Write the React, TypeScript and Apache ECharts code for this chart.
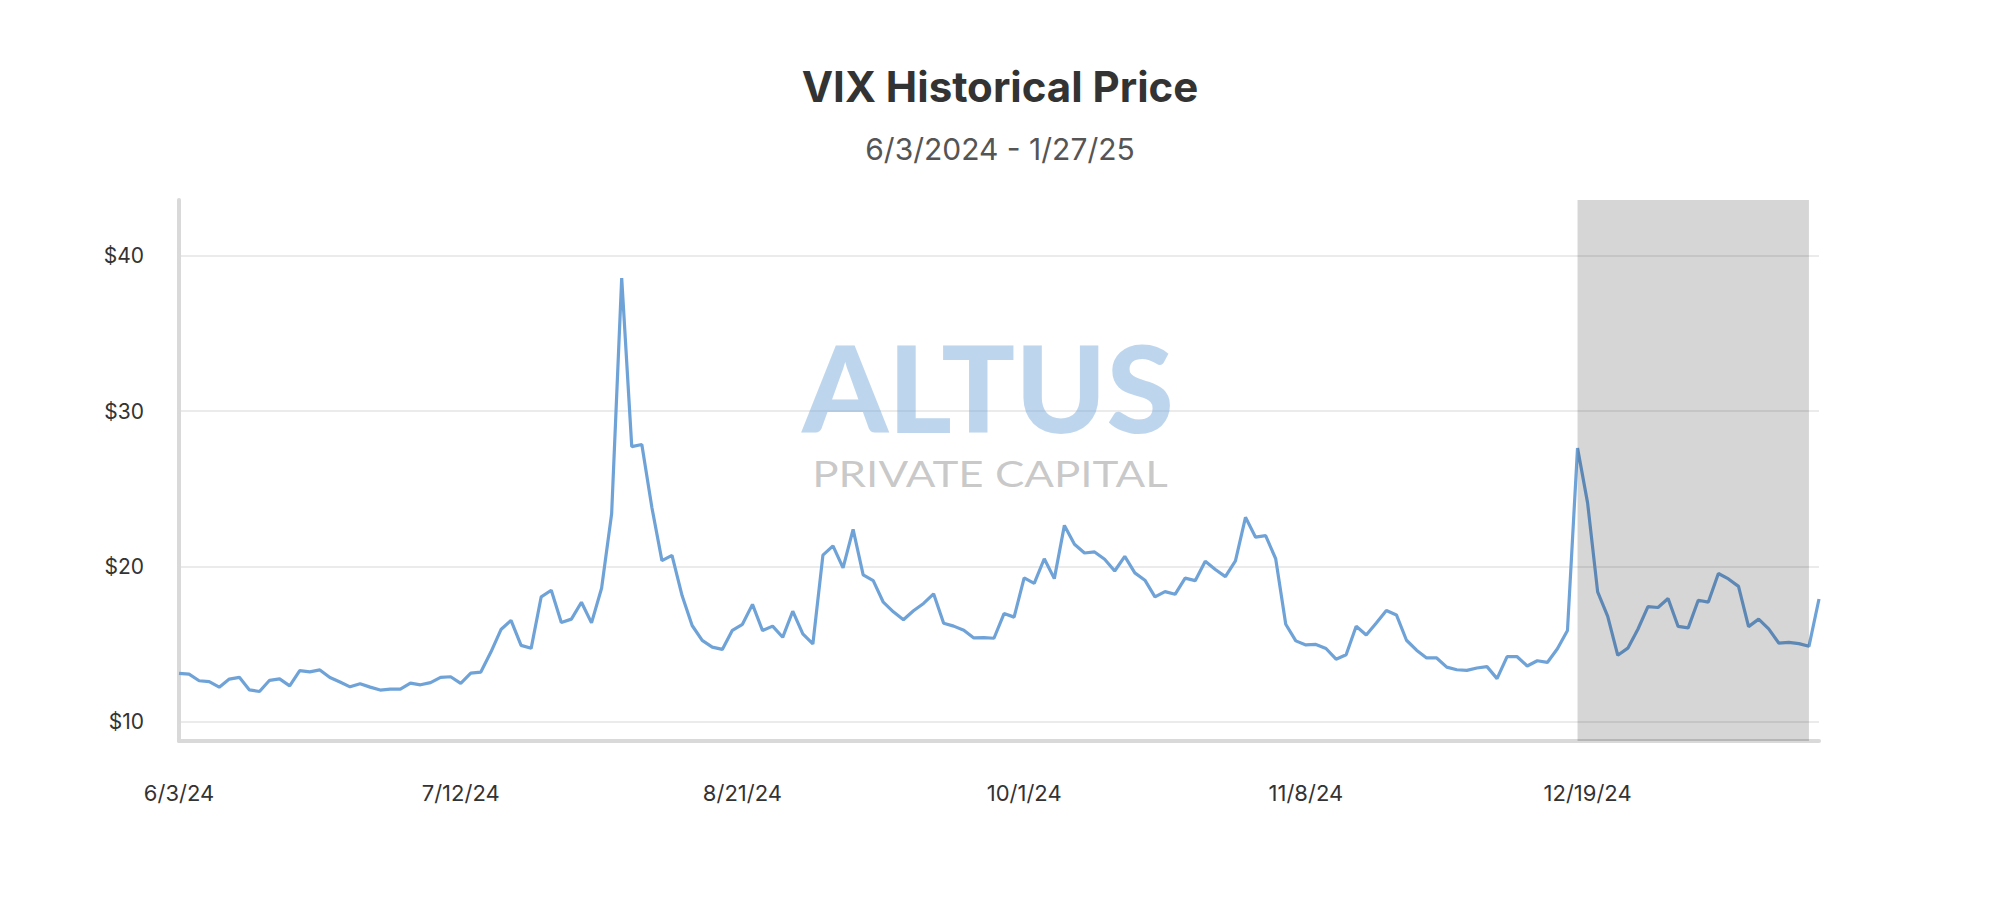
import { useEffect, useRef } from 'react';
import * as echarts from 'echarts';

const dates: string[] = [
  '6/3/24','6/4/24','6/5/24','6/6/24','6/7/24','6/10/24','6/11/24','6/12/24','6/13/24','6/14/24',
  '6/17/24','6/18/24','6/20/24','6/21/24','6/24/24','6/25/24','6/26/24','6/27/24','6/28/24',
  '7/1/24','7/2/24','7/3/24','7/4/24','7/5/24','7/8/24','7/9/24','7/10/24','7/11/24','7/12/24',
  '7/15/24','7/16/24','7/17/24','7/18/24','7/19/24','7/22/24','7/23/24','7/24/24','7/25/24','7/26/24',
  '7/29/24','7/30/24','7/31/24','8/1/24','8/2/24','8/5/24','8/6/24','8/7/24','8/8/24','8/9/24',
  '8/12/24','8/13/24','8/14/24','8/15/24','8/16/24','8/19/24','8/20/24','8/21/24','8/22/24','8/23/24',
  '8/26/24','8/27/24','8/28/24','8/29/24','8/30/24','9/3/24','9/4/24','9/5/24','9/6/24',
  '9/9/24','9/10/24','9/11/24','9/12/24','9/13/24','9/16/24','9/17/24','9/18/24','9/19/24','9/20/24',
  '9/23/24','9/24/24','9/25/24','9/26/24','9/27/24','9/30/24','10/1/24','10/2/24','10/3/24','10/4/24',
  '10/7/24','10/8/24','10/9/24','10/10/24','10/11/24','10/14/24','10/15/24','10/16/24','10/17/24','10/18/24',
  '10/21/24','10/22/24','10/23/24','10/24/24','10/25/24','10/28/24','10/29/24','10/30/24','10/31/24','11/1/24',
  '11/4/24','11/5/24','11/6/24','11/7/24','11/8/24','11/11/24','11/12/24','11/13/24','11/14/24','11/15/24',
  '11/18/24','11/19/24','11/20/24','11/21/24','11/22/24','11/25/24','11/26/24','11/27/24','11/29/24',
  '12/2/24','12/3/24','12/4/24','12/5/24','12/6/24','12/9/24','12/10/24','12/11/24','12/12/24','12/13/24',
  '12/16/24','12/17/24','12/18/24','12/19/24','12/20/24','12/23/24','12/24/24','12/26/24','12/27/24',
  '12/30/24','12/31/24','1/2/25','1/3/25','1/6/25','1/7/25','1/8/25','1/10/25',
  '1/13/25','1/14/25','1/15/25','1/16/25','1/17/25','1/21/25','1/22/25','1/23/25','1/24/25','1/27/25',
];

const vix: number[] = [
  13.11, 13.06, 12.63, 12.58, 12.22, 12.74, 12.85, 12.04, 11.94, 12.66,
  12.75, 12.30, 13.28, 13.20, 13.33, 12.84, 12.55, 12.24, 12.44,
  12.22, 12.03, 12.09, 12.09, 12.48, 12.37, 12.51, 12.85, 12.89, 12.46,
  13.12, 13.19, 14.48, 15.93, 16.52, 14.91, 14.72, 18.04, 18.46, 16.39,
  16.60, 17.69, 16.36, 18.59, 23.39, 38.57, 27.71, 27.85, 23.79, 20.37,
  20.71, 18.12, 16.19, 15.23, 14.80, 14.65, 15.88, 16.27, 17.55, 15.86,
  16.15, 15.43, 17.11, 15.65, 15.00, 20.72, 21.32, 19.90, 22.38,
  19.45, 19.08, 17.69, 17.07, 16.56, 17.14, 17.61, 18.23, 16.33, 16.15,
  15.89, 15.39, 15.41, 15.37, 16.96, 16.73, 19.26, 18.90, 20.49, 19.21,
  22.64, 21.42, 20.86, 20.93, 20.46, 19.70, 20.64, 19.58, 19.11, 18.03,
  18.37, 18.20, 19.24, 19.08, 20.33, 19.80, 19.34, 20.35, 23.16, 21.88,
  21.98, 20.49, 16.27, 15.20, 14.94, 14.97, 14.71, 14.02, 14.31, 16.14,
  15.58, 16.35, 17.16, 16.87, 15.24, 14.60, 14.10, 14.10, 13.51,
  13.34, 13.30, 13.45, 13.54, 12.77, 14.19, 14.18, 13.58, 13.92, 13.81,
  14.69, 15.87, 27.62, 24.09, 18.36, 16.78, 14.27, 14.73, 15.95,
  17.40, 17.35, 17.93, 16.13, 16.04, 17.82, 17.70, 19.54,
  19.19, 18.71, 16.12, 16.60, 15.97, 15.06, 15.10, 15.02, 14.85, 17.90,
];

const yTicks: number[] = [10, 20, 30, 40];
const yMin = 8.75;
const yMax = 43.6;
const labelEvery = 28;
const xLabelLast = 140;
const highlightRange: [string, string] = ['12/18/24', '1/24/25'];

const titleText = 'VIX Historical Price';
const subtitleText = '6/3/2024 - 1/27/25';

export default function App() {
  const ref = useRef<HTMLDivElement>(null);

  useEffect(() => {
    if (!ref.current) return;
    const chart = echarts.init(ref.current, null, { renderer: 'svg' });
    chart.setOption({
      animation: false,
      backgroundColor: '#ffffff',
      title: [
        {
          text: titleText,
          left: 'center',
          top: 65,
          padding: 0,
          textStyle: { fontFamily: 'Inter', fontWeight: 'bold', fontSize: 42, color: '#333333' },
        },
        {
          text: subtitleText,
          left: 'center',
          top: 134,
          padding: 0,
          textStyle: { fontFamily: 'Inter', fontWeight: 'normal', fontSize: 30, color: '#555555' },
        },
      ],
      graphic: [
        {
          type: 'text',
          x: 988,
          y: 386,
          z: 1,
          scaleX: 1.02,
          silent: true,
          style: {
            text: 'ALTUS',
            fontFamily: 'Lato',
            fontWeight: 900,
            fontSize: 120,
            fill: 'rgba(111,163,216,0.45)',
            textAlign: 'center',
            textVerticalAlign: 'middle',
          },
        },
        {
          type: 'text',
          x: 990,
          y: 473,
          z: 1,
          scaleX: 1.22,
          silent: true,
          style: {
            text: 'PRIVATE CAPITAL',
            fontFamily: 'Lato',
            fontWeight: 'normal',
            fontSize: 36,
            fill: 'rgba(140,140,140,0.47)',
            textAlign: 'center',
            textVerticalAlign: 'middle',
          },
        },
      ],
      grid: { left: 179, right: 181, top: 200, bottom: 159, containLabel: false },
      xAxis: {
        type: 'category',
        data: dates,
        boundaryGap: false,
        axisLine: { show: true, lineStyle: { color: '#d9d9d9', width: 4 } },
        axisTick: { show: false },
        splitLine: { show: false },
        axisLabel: {
          interval: (index: number) => index % labelEvery === 0 && index <= xLabelLast,
          hideOverlap: false,
          color: '#333333',
          fontFamily: 'Inter',
          fontSize: 22,
          margin: 41,
        },
      },
      yAxis: {
        type: 'value',
        min: yMin,
        max: yMax,
        splitNumber: 4,
        axisLine: { show: true, lineStyle: { color: '#d9d9d9', width: 4 } },
        axisTick: { show: false },
        splitLine: {
          show: true,
          showMinLine: false,
          showMaxLine: false,
          lineStyle: { color: '#ebebeb', width: 2 },
        },
        axisLabel: {
          showMinLabel: false,
          showMaxLabel: false,
          color: '#333333',
          fontFamily: 'Inter',
          fontSize: 21,
          margin: 35,
          formatter: (v: number) => (yTicks.includes(Math.round(v * 100) / 100) ? '$' + Math.round(v) : ''),
        },
      },
      series: [
        {
          type: 'line',
          data: vix,
          symbol: 'none',
          z: 2,
          lineStyle: { color: '#6fa3d8', width: 3.2 },
          markArea: {
            silent: true,
            z: 5,
            itemStyle: { color: 'rgba(0,0,0,0.16)' },
            data: [[{ xAxis: highlightRange[0] }, { xAxis: highlightRange[1] }]],
          },
        },
      ],
    });
    return () => chart.dispose();
  }, []);

  return (
    <div
      ref={ref}
      style={{ position: 'fixed', left: 0, top: 0, width: 2000, height: 900, background: '#ffffff' }}
    />
  );
}
